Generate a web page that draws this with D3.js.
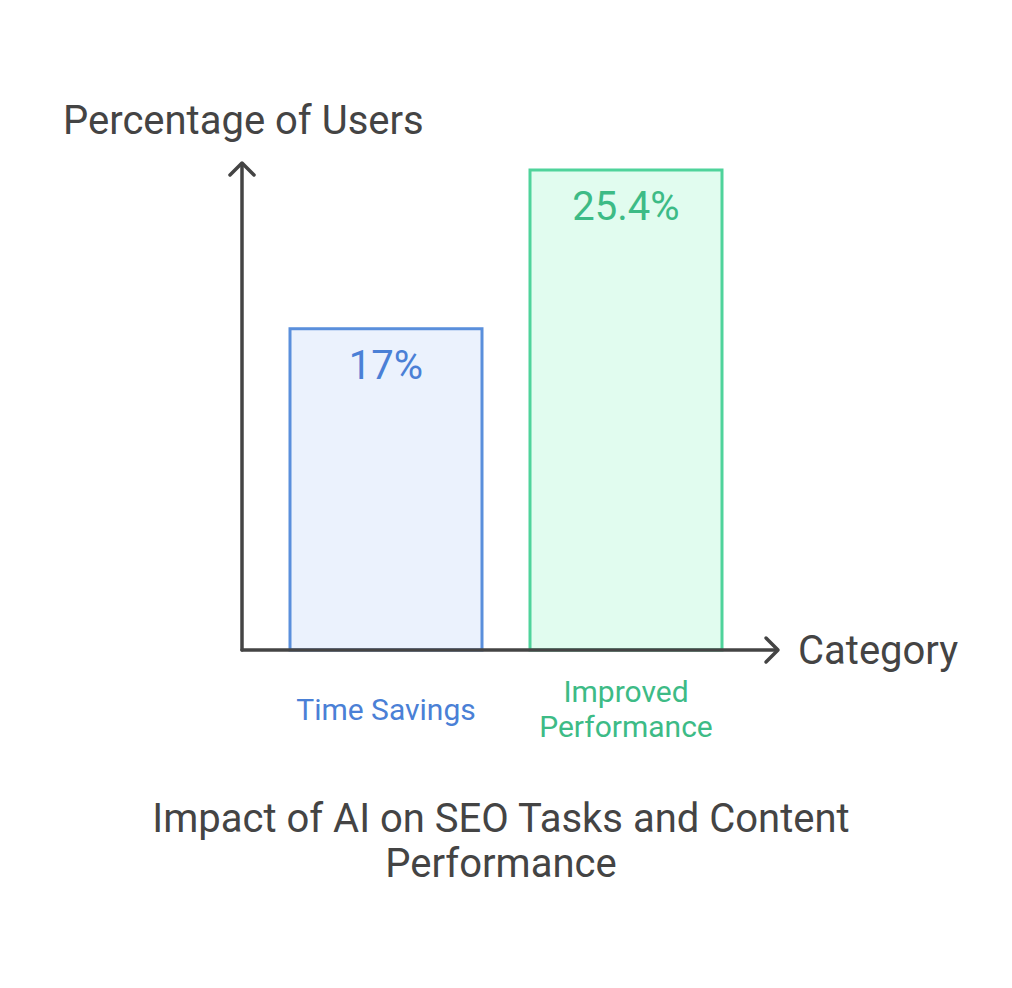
<!DOCTYPE html>
<html>
<head>
<meta charset="utf-8">
<script src="https://cdn.jsdelivr.net/npm/d3@7"></script>
<style>
  body { margin: 0; background: #fff; }
  text { font-family: Roboto, "Noto Sans", sans-serif; }
</style>
</head>
<body>
<svg id="chart" width="1012" height="988"></svg>
<script>
const categories = ["Time Savings", "Improved Performance"];
const values = [17, 25.4];
const valueLabels = ["17%", "25.4%"];
const categoryLines = [["Time Savings"], ["Improved", "Performance"]];
const strokeColors = ["#5a8fdc", "#4fd39b"];
const fillColors = ["#ebf2fd", "#e1fcef"];
const textColors = ["#4a80d6", "#3dbb86"];

const svg = d3.select("#chart");
const axisColor = "#444444";

// layout
const x0 = 242, y0 = 650;
const x = d3.scaleBand()
    .domain(categories)
    .range([266, 746])
    .paddingInner(0.2)
    .paddingOuter(0.1);
const y = d3.scaleLinear()
    .domain([0, 25.4])
    .range([y0, 170]);

// bars
const bars = svg.append("g").selectAll("g")
    .data(categories)
    .enter().append("g");

bars.append("rect")
    .attr("x", d => x(d))
    .attr("y", (d, i) => y(values[i]))
    .attr("width", x.bandwidth())
    .attr("height", (d, i) => y0 - y(values[i]))
    .attr("fill", (d, i) => fillColors[i])
    .attr("stroke", (d, i) => strokeColors[i])
    .attr("stroke-width", 3);

bars.append("text")
    .attr("x", d => x(d) + x.bandwidth() / 2)
    .attr("y", (d, i) => y(values[i]) + 50)
    .attr("text-anchor", "middle")
    .attr("font-size", 40)
    .attr("fill", (d, i) => textColors[i])
    .text((d, i) => valueLabels[i]);

// category labels
bars.each(function (d, i) {
    const lines = categoryLines[i];
    const base = lines.length === 1 ? 720 : 702;
    d3.select(this).selectAll("text.cat")
        .data(lines)
        .enter().append("text")
        .attr("class", "cat")
        .attr("x", x(d) + x.bandwidth() / 2)
        .attr("y", (l, j) => base + j * 35)
        .attr("text-anchor", "middle")
        .attr("font-size", 30)
        .attr("fill", textColors[i])
        .text(l => l);
});

// axes
const axes = svg.append("g")
    .attr("fill", "none")
    .attr("stroke", axisColor)
    .attr("stroke-width", 3.5)
    .attr("stroke-linecap", "round")
    .attr("stroke-linejoin", "round");

axes.append("path").attr("d", `M${x0},${y0} V164`);
axes.append("path").attr("d", `M${x0 - 12},175 L${x0},163 L${x0 + 12},175`);
axes.append("path").attr("d", `M${x0},${y0} H777`);
axes.append("path").attr("d", `M766,638 L778,${y0} L766,662`);

svg.append("text")
    .attr("x", 63).attr("y", 134)
    .attr("font-size", 40)
    .attr("fill", axisColor)
    .text("Percentage of Users");

svg.append("text")
    .attr("x", 798).attr("y", 664)
    .attr("font-size", 40)
    .attr("fill", axisColor)
    .text("Category");

// title
const titleLines = ["Impact of AI on SEO Tasks and Content", "Performance"];
svg.append("g").selectAll("text")
    .data(titleLines)
    .enter().append("text")
    .attr("x", 501)
    .attr("y", (d, i) => 832 + i * 45)
    .attr("text-anchor", "middle")
    .attr("font-size", 40)
    .attr("fill", axisColor)
    .text(d => d);
</script>
</body>
</html>
